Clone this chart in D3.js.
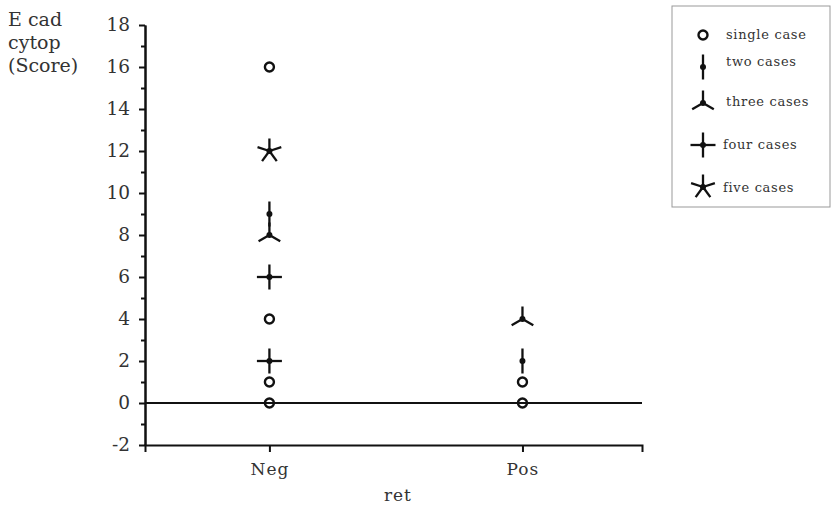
<!DOCTYPE html>
<html>
<head>
<meta charset="utf-8">
<script src="https://cdn.jsdelivr.net/npm/d3@7"></script>
<style>
  body { margin: 0; background: #fff; }
  svg text { font-family: "DejaVu Serif", serif; fill: #333; }
  .axis path, .axis line { stroke: #111; stroke-width: 2; }
  .axis text { font-size: 18.5px; font-family: "DejaVu Serif", serif; fill: #333; }
  .xaxis text { font-size: 17px; }
</style>
</head>
<body>
<svg width="832" height="510"></svg>
<script>
const categories = ["Neg", "Pos"]

const negScores = [0, 1, 2, 4, 6, 8, 9, 12, 16]
const negCounts = [1, 1, 4, 1, 4, 3, 2, 5, 1]
const posScores = [0, 1, 2, 4]
const posCounts = [1, 1, 2, 3]

const majorTicks = [-2, 0, 2, 4, 6, 8, 10, 12, 14, 16, 18]
const minorTicks = [-1, 1, 3, 5, 7, 9, 11, 13, 15, 17]

const legendLabels = ["single case", "two cases", "three cases", "four cases", "five cases"]
const legendCounts = [1, 2, 3, 4, 5]
const titleLines = ["E cad", "cytop", "(Score)"]

const svg = d3.select("svg")

const x = d3.scalePoint()
    .domain(categories)
    .range([145, 642])
    .padding(0.482)
    .align(0.51)

const y = d3.scaleLinear()
    .domain([-2, 18])
    .range([445, 25])

const points = []
negScores.forEach((s, i) => points.push({cat: "Neg", score: s, n: negCounts[i]}))
posScores.forEach((s, i) => points.push({cat: "Pos", score: s, n: posCounts[i]}))

// y axis, minor ticks first
svg.append("g")
    .attr("class", "axis")
    .attr("transform", "translate(145,0)")
    .call(d3.axisLeft(y).tickValues(minorTicks).tickSize(4).tickSizeOuter(0).tickFormat(""))

svg.append("g")
    .attr("class", "axis")
    .attr("transform", "translate(145,0)")
    .call(d3.axisLeft(y).tickValues(majorTicks).tickSize(6).tickSizeOuter(0).tickPadding(9)
        .tickFormat(d => String(d)))

svg.append("g")
    .attr("class", "axis xaxis")
    .attr("transform", `translate(0,${y(-2)})`)
    .call(d3.axisBottom(x).tickSize(7).tickSizeOuter(7).tickPadding(11))
    .selectAll("text")
    .attr("letter-spacing", 1)

// zero line
svg.append("line")
    .attr("x1", 145)
    .attr("x2", 642)
    .attr("y1", y(0))
    .attr("y2", y(0))
    .attr("stroke", "#111")
    .attr("stroke-width", 2)

svg.append("text")
    .attr("x", (x("Neg") + x("Pos")) / 2 + 2)
    .attr("y", 501)
    .attr("text-anchor", "middle")
    .attr("font-size", 17)
    .attr("letter-spacing", 1)
    .text("ret")

svg.selectAll("text.ytitle")
    .data(titleLines)
    .enter()
    .append("text")
    .attr("class", "ytitle")
    .attr("x", 8)
    .attr("y", (d, i) => 26 + i * 23)
    .attr("font-size", 19)
    .text(d => d)

// sunflower glyph
function drawFlower(g, n) {
    if (n === 1) {
        g.append("circle")
            .attr("r", 4.5)
            .attr("fill", "none")
            .attr("stroke", "#111")
            .attr("stroke-width", 2.4)
        return
    }
    const len = 12.5
    d3.range(n).forEach(k => {
        const a = Math.PI / 2 + k * 2 * Math.PI / n
        g.append("line")
            .attr("x1", 0)
            .attr("y1", 0)
            .attr("x2", len * Math.cos(a))
            .attr("y2", -len * Math.sin(a))
            .attr("stroke", "#111")
            .attr("stroke-width", 2.3)
    })
    g.append("circle")
        .attr("r", 3)
        .attr("fill", "#111")
}

svg.selectAll("g.flower")
    .data(points)
    .enter()
    .append("g")
    .attr("class", "flower")
    .attr("transform", d => `translate(${x(d.cat)},${y(d.score)})`)
    .each(function(d) { drawFlower(d3.select(this), d.n) })

// legend
const legendY = [35, 67, 103, 145, 187]
const legendTextY = [39, 66, 106, 149, 192]

svg.append("rect")
    .attr("x", 672)
    .attr("y", 6)
    .attr("width", 158)
    .attr("height", 201)
    .attr("fill", "none")
    .attr("stroke", "#999")
    .attr("stroke-width", 1)

const legendItems = svg.selectAll("g.legend-item")
    .data(legendCounts)
    .enter()
    .append("g")
    .attr("class", "legend-item")

legendItems.append("g")
    .attr("transform", (d, i) => `translate(703,${legendY[i]})`)
    .each(function(d) { drawFlower(d3.select(this), d) })

legendItems.append("text")
    .attr("x", (d, i) => i < 3 ? 726 : 723)
    .attr("y", (d, i) => legendTextY[i])
    .attr("font-size", 13)
    .attr("fill", "#444")
    .attr("letter-spacing", 0.7)
    .text((d, i) => legendLabels[i])
</script>
</body>
</html>
